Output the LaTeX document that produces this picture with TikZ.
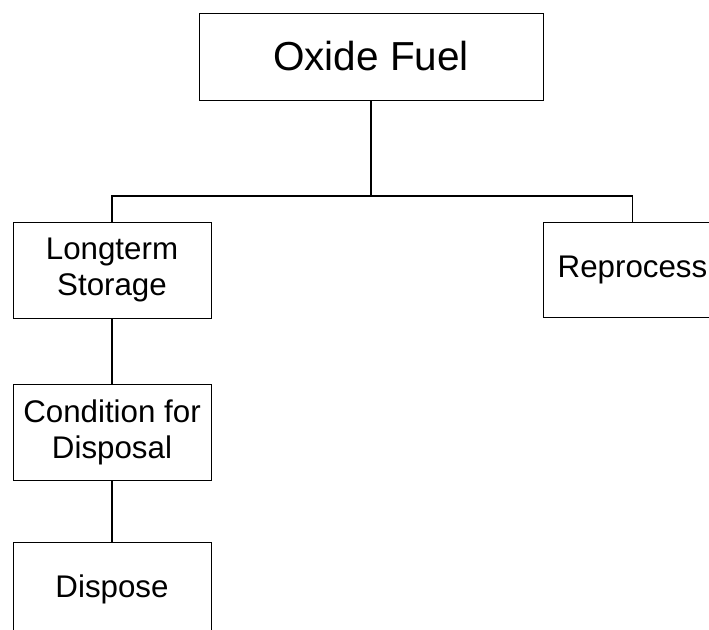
\documentclass[tikz,border=0pt]{standalone}
\usepackage{fontspec}
\setmainfont{Liberation Sans}
\begin{document}
\begin{tikzpicture}[x=1pt,y=-1pt,
  box/.style={draw, line width=1pt, inner sep=0pt, align=center,
    font=\fontsize{31.3}{36}\selectfont},
  bigbox/.style={draw, line width=1pt, inner sep=0pt, align=center,
    font=\fontsize{40.5}{46}\selectfont},
  conn/.style={line width=1.3pt}]
\useasboundingbox (0,0) rectangle (709,629);
\clip (0,0) rectangle (709,629);
\node[bigbox, minimum width=344pt, minimum height=87pt] (oxide) at (371,56.5) {Oxide Fuel};
\node[box, minimum width=198pt, minimum height=96pt] (long) at (112,270) {Longterm\\Storage};
\node[box, minimum width=179pt, minimum height=95pt] (repro) at (632.5,269.5) {Reprocess};
\node[box, minimum width=198pt, minimum height=96pt] (cond) at (112,432) {Condition for\\Disposal};
\node[box, minimum width=198pt, minimum height=95pt] (disp) at (112,589.5) {Dispose};
\coordinate (bus) at (371,196);
\draw[conn] (oxide.south) -- (bus);
\draw[conn] (long.north) |- (bus) -| (repro.north);
\draw[conn] (long.south) -- (cond.north);
\draw[conn] (cond.south) -- (disp.north);
\end{tikzpicture}
\end{document}
